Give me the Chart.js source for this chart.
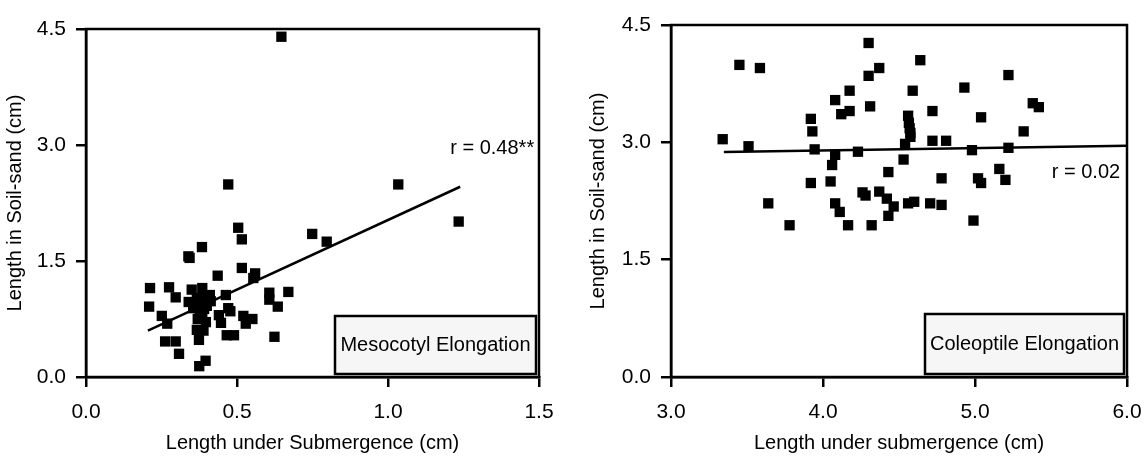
<!DOCTYPE html>
<html>
<head>
<meta charset="utf-8">
<script src="https://cdn.jsdelivr.net/npm/chart.js@4.4.1/dist/chart.umd.min.js"></script>
<style>
  body { margin: 0; background: #fff; }
  #wrap { position: relative; width: 1146px; height: 457px; }
  canvas { position: absolute; top: 0; }
  #mesoChart { left: 0; }
  #coleChart { left: 573px; }
</style>
</head>
<body>
<div id="wrap">
  <canvas id="mesoChart" width="573" height="457"></canvas>
  <canvas id="coleChart" width="573" height="457"></canvas>
</div>
<script>
// Mesocotyl: length under submergence (x) vs length in soil-sand (y), cm
const mesoX = [0.647, 0.471, 1.034, 1.234, 0.504, 0.516, 0.749, 0.797, 0.384, 0.339,
  0.343, 0.516, 0.436, 0.560, 0.554, 0.212, 0.275, 0.350, 0.385, 0.297,
  0.410, 0.463, 0.607, 0.670, 0.607, 0.209, 0.340, 0.367, 0.391, 0.413,
  0.355, 0.377, 0.391, 0.635, 0.471, 0.478, 0.440, 0.251, 0.521, 0.551,
  0.377, 0.397, 0.447, 0.529, 0.269, 0.367, 0.389, 0.466, 0.490, 0.624,
  0.262, 0.297, 0.374, 0.308, 0.396, 0.375, 0.360, 0.380, 0.370, 0.400, 0.385];
const mesoY = [4.40, 2.49, 2.49, 2.01, 1.93, 1.78, 1.85, 1.75, 1.68, 1.56,
  1.54, 1.41, 1.31, 1.34, 1.28, 1.15, 1.16, 1.13, 1.15, 1.03,
  1.06, 1.06, 1.09, 1.10, 1.00, 0.91, 0.97, 1.01, 0.96, 0.98,
  0.89, 0.85, 0.88, 0.91, 0.89, 0.85, 0.80, 0.79, 0.79, 0.75,
  0.79, 0.71, 0.70, 0.69, 0.69, 0.61, 0.60, 0.54, 0.54, 0.52,
  0.46, 0.46, 0.48, 0.30, 0.21, 0.14, 0.93, 1.02, 0.75, 0.92, 0.82];
const mesoFitX = [0.205, 1.239];
const mesoFitY = [0.60, 2.46];

// Coleoptile
const coleX = [4.30, 3.45, 3.585, 4.64, 4.37, 4.30, 5.22, 4.175, 4.59, 4.93,
  4.08, 4.31, 4.12, 4.175, 4.72, 5.38, 5.42, 3.92, 4.56, 5.04,
  3.93, 5.32, 4.565, 4.57, 4.575, 4.575, 3.34, 4.72, 4.81, 4.54,
  3.51, 3.945, 4.23, 4.98, 5.22, 4.08, 4.06, 4.53, 4.43, 5.16,
  4.78, 5.02, 5.04, 5.20, 3.92, 4.05, 4.26, 4.28, 4.37, 4.42,
  4.465, 3.64, 4.08, 4.56, 4.60, 4.705, 4.78, 4.11, 4.43, 3.78,
  4.165, 4.32, 4.99];
const coleY = [4.27, 3.99, 3.95, 4.05, 3.95, 3.85, 3.86, 3.66, 3.66, 3.70,
  3.54, 3.46, 3.36, 3.40, 3.40, 3.50, 3.45, 3.30, 3.34, 3.32,
  3.14, 3.14, 3.25, 3.18, 3.12, 3.07, 3.04, 3.02, 3.02, 2.98,
  2.95, 2.91, 2.88, 2.90, 2.93, 2.84, 2.71, 2.78, 2.62, 2.66,
  2.54, 2.54, 2.48, 2.52, 2.48, 2.50, 2.36, 2.32, 2.37, 2.28,
  2.18, 2.22, 2.22, 2.22, 2.24, 2.22, 2.20, 2.11, 2.06, 1.94,
  1.94, 1.94, 2.00];
const coleFitX = [3.348, 6.0];
const coleFitY = [2.875, 2.956];

const mesoXTicks = [0, 0.5, 1.0, 1.5];
const coleXTicks = [3.0, 4.0, 5.0, 6.0];
const soilYTicks = [0, 1.5, 3.0, 4.5];

const FONT = "'Liberation Sans', Arial, sans-serif";
Chart.defaults.font.family = FONT;
Chart.defaults.color = '#000';

const toPoints = (xs, ys) => xs.map((x, i) => ({ x: x, y: ys[i] }));

// frame box, label box and r value
const framePlugin = {
  id: 'frame',
  afterDatasetsDraw(chart, args, opts) {
    const { ctx, chartArea: a, scales } = chart;
    ctx.save();
    ctx.strokeStyle = '#000';
    ctx.lineWidth = 2.5;
    ctx.strokeRect(a.left, a.top, a.right - a.left, a.bottom - a.top);

    // label box in the lower right corner
    const bx = a.right - opts.gap - opts.boxW;
    const by = a.bottom - opts.gap - opts.boxH;
    ctx.fillStyle = '#f6f6f6';
    ctx.fillRect(bx, by, opts.boxW, opts.boxH);
    ctx.strokeRect(bx, by, opts.boxW, opts.boxH);
    ctx.fillStyle = '#000';
    ctx.font = '20px ' + FONT;
    ctx.textAlign = 'center';
    ctx.textBaseline = 'middle';
    ctx.fillText(opts.label, bx + opts.boxW / 2, by + opts.boxH / 2);

    // correlation
    ctx.fillText(opts.rText, scales.x.getPixelForValue(opts.rAt[0]), scales.y.getPixelForValue(opts.rAt[1]));
    ctx.restore();
  }
};

// let layout.padding alone decide the plot box
function noEdgePadding(s) {
  s.paddingLeft = 0;
  s.paddingRight = 0;
  s.paddingTop = 0;
  s.paddingBottom = 0;
}

function makeChart(id, cfg) {
  return new Chart(document.getElementById(id), {
    type: 'scatter',
    data: {
      datasets: [
        {
          data: toPoints(cfg.xs, cfg.ys),
          pointStyle: 'rect',
          pointRadius: 7.3,
          pointBackgroundColor: '#000',
          pointBorderWidth: 0
        },
        {
          type: 'line',
          data: toPoints(cfg.fitX, cfg.fitY),
          borderColor: '#000',
          borderWidth: 2.5,
          pointRadius: 0,
          fill: false
        }
      ]
    },
    options: {
      responsive: false,
      animation: false,
      layout: { padding: cfg.padding },
      plugins: {
        legend: { display: false },
        tooltip: { enabled: false },
        frame: cfg.frame
      },
      scales: {
        x: {
          type: 'linear',
          min: cfg.xTicks[0],
          max: cfg.xTicks[cfg.xTicks.length - 1],
          afterBuildTicks: s => { s.ticks = cfg.xTicks.map(v => ({ value: v })); },
          afterFit: s => { s.height = 80; noEdgePadding(s); },
          ticks: {
            font: { size: 21 },
            padding: 13,
            maxRotation: 0,
            callback: v => Number(v).toFixed(1)
          },
          grid: { drawOnChartArea: false, drawTicks: true, tickLength: 10, color: '#000', lineWidth: 2.5 },
          border: { color: '#000', width: 2.5 },
          title: { display: true, text: cfg.xTitle, font: { size: 20 }, padding: { top: 0, bottom: 2 } }
        },
        y: {
          type: 'linear',
          min: 0,
          max: 4.5,
          afterBuildTicks: s => { s.ticks = soilYTicks.map(v => ({ value: v })); },
          afterFit: s => { s.width = cfg.yWidth; noEdgePadding(s); },
          ticks: {
            font: { size: 21 },
            padding: 10,
            callback: v => Number(v).toFixed(1)
          },
          grid: { drawOnChartArea: false, drawTicks: true, tickLength: 10, color: '#000', lineWidth: 2.5 },
          border: { color: '#000', width: 2.5 },
          title: { display: true, text: 'Length in Soil-sand (cm)', font: { size: 20 }, padding: { top: cfg.yTitlePad, bottom: 0 } }
        }
      }
    },
    plugins: [framePlugin]
  });
}

makeChart('mesoChart', {
  xs: mesoX, ys: mesoY, fitX: mesoFitX, fitY: mesoFitY,
  xTicks: mesoXTicks,
  xTitle: 'Length under Submergence (cm)',
  padding: { left: 0, top: 29, right: 34, bottom: 0 },
  yWidth: 86,
  yTitlePad: 3,
  frame: { label: 'Mesocotyl Elongation', boxW: 201, boxH: 58, gap: 3, rText: 'r = 0.48**', rAt: [1.345, 2.95] }
});

makeChart('coleChart', {
  xs: coleX, ys: coleY, fitX: coleFitX, fitY: coleFitY,
  xTicks: coleXTicks,
  xTitle: 'Length under submergence (cm)',
  padding: { left: 0, top: 25, right: 19, bottom: 0 },
  yWidth: 98,
  yTitlePad: 13,
  frame: { label: 'Coleoptile Elongation', boxW: 199, boxH: 60, gap: 3, rText: 'r = 0.02', rAt: [5.73, 2.61] }
});
</script>
</body>
</html>
